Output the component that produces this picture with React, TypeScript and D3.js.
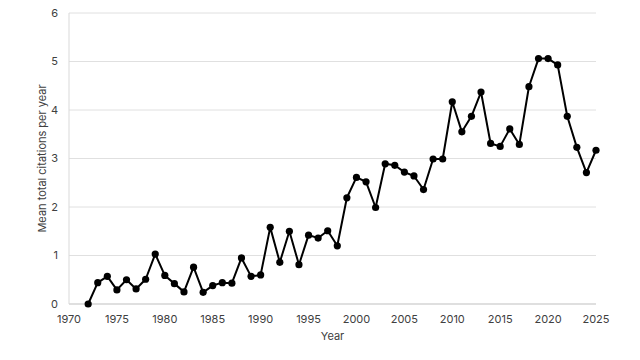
import React from "react";
import * as d3 from "d3";

const years = [1972,1973,1974,1975,1976,1977,1978,1979,1980,1981,1982,1983,1984,1985,1986,1987,1988,1989,1990,1991,1992,1993,1994,1995,1996,1997,1998,1999,2000,2001,2002,2003,2004,2005,2006,2007,2008,2009,2010,2011,2012,2013,2014,2015,2016,2017,2018,2019,2020,2021,2022,2023,2024,2025];
const values = [0,0.44,0.57,0.29,0.5,0.31,0.51,1.03,0.59,0.42,0.25,0.76,0.24,0.38,0.44,0.43,0.95,0.57,0.6,1.58,0.86,1.5,0.81,1.42,1.36,1.51,1.2,2.19,2.61,2.52,1.99,2.89,2.86,2.72,2.64,2.36,2.99,2.99,4.17,3.55,3.87,4.37,3.31,3.25,3.61,3.29,4.48,5.06,5.06,4.93,3.87,3.23,2.71,3.17];
const xTicks = [1970,1975,1980,1985,1990,1995,2000,2005,2010,2015,2020,2025];
const yTicks = [0,1,2,3,4,5,6];

export default function App() {
  const W = 640, H = 360;
  const left = 69, right = 596, top = 13, bottom = 304;
  const x = d3.scaleLinear().domain([1970, 2025]).range([left, right]);
  const y = d3.scaleLinear().domain([0, 6]).range([bottom, top]);
  const line = d3.line<number>().x((_, i) => x(years[i])).y((d) => y(d));
  const font = "Inter, 'Liberation Sans', sans-serif";
  return (
    <svg width={W} height={H} style={{ position: "absolute", left: 0, top: 0 }} fontFamily={font}>
      <rect width={W} height={H} fill="#fff" />
      {yTicks.map((t) => (
        <line key={t} x1={left} x2={right} y1={y(t)} y2={y(t)} stroke={t === 0 ? "#bfbfbf" : "#e0e0e0"} strokeWidth={1} />
      ))}
      <line x1={left} x2={left} y1={top} y2={bottom} stroke="#d9d9d9" strokeWidth={1} />
      {yTicks.map((t) => (
        <text key={t} x={58} y={y(t)} dy="0.35em" textAnchor="end" fontSize={11} fill="#404040">{t}</text>
      ))}
      {xTicks.map((t) => (
        <text key={t} x={x(t)} y={323} textAnchor="middle" fontSize={11} fill="#404040">{t}</text>
      ))}
      <text x={(left + right) / 2} y={340} textAnchor="middle" fontSize={11} fill="#404040">Year</text>
      <text transform={`translate(46,${(top + bottom) / 2}) rotate(-90)`} textAnchor="middle" fontSize={11} fill="#404040">Mean total citations per year</text>
      <path d={line(values) || ""} fill="none" stroke="#000" strokeWidth={2} strokeLinejoin="round" />
      {values.map((v, i) => (
        <circle key={i} cx={x(years[i])} cy={y(v)} r={3.6} fill="#000" />
      ))}
    </svg>
  );
}
